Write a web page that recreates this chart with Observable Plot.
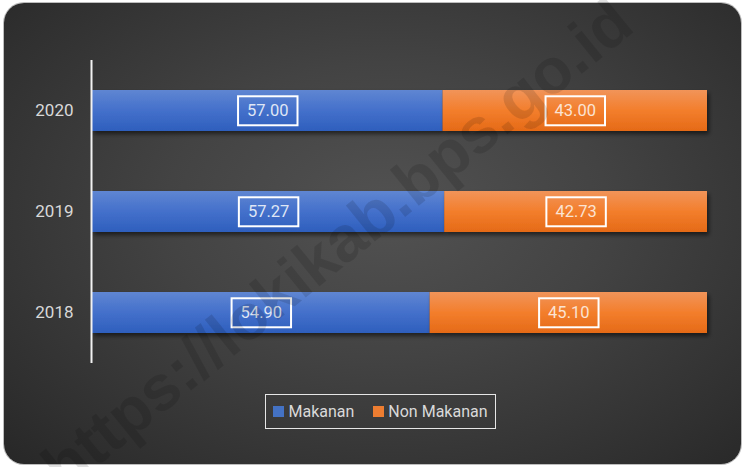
<!DOCTYPE html>
<html>
<head>
<meta charset="utf-8">
<script src="https://cdn.jsdelivr.net/npm/d3@7"></script>
<script src="https://cdn.jsdelivr.net/npm/@observablehq/plot@0.6"></script>
<style>
  html, body { margin: 0; padding: 0; background: #fff; }
  #wrap { position: relative; width: 746px; height: 467px; overflow: hidden; }
  #bg { position: absolute; left: 4px; top: 3px; width: 737px; height: 461px; border-radius: 20px;
        background: radial-gradient(ellipse 75% 80% at 52% 45%, #525252 0%, #434343 40%, #303030 80%, #262626 100%);
        box-shadow: 0 0 0 1px #bdbdbd; }
  #chart { position: absolute; left: 0; top: 0; }
  #legend { position: absolute; left: 265px; top: 394px; width: 229px; height: 33px; border: 1.5px solid #e6e6e6;
            display: flex; align-items: center; justify-content: center; gap: 19px; white-space: nowrap;
            font-family: Roboto, sans-serif; font-size: 16px; color: #d9d9d9; }
  #legend .item { display: flex; align-items: center; gap: 4px; }
  #legend .sw { width: 11px; height: 11px; display: inline-block; }
  #wm { position: absolute; left: 0; top: 0; width: 746px; height: 467px; pointer-events: none; }
</style>
</head>
<body>
<svg width="0" height="0" style="position:absolute">
  <defs>
    <linearGradient id="gBlue" x1="0" y1="0" x2="0" y2="1">
      <stop offset="0" stop-color="#5f86d2"/>
      <stop offset="0.5" stop-color="#4470cb"/>
      <stop offset="1" stop-color="#2e5fbd"/>
    </linearGradient>
    <linearGradient id="gOrange" x1="0" y1="0" x2="0" y2="1">
      <stop offset="0" stop-color="#f19459"/>
      <stop offset="0.5" stop-color="#f37e2c"/>
      <stop offset="1" stop-color="#e56a17"/>
    </linearGradient>
    <filter id="shadow" x="-5%" y="-20%" width="110%" height="160%">
      <feDropShadow dx="2" dy="3" stdDeviation="2" flood-color="#000" flood-opacity="0.55"/>
    </filter>
  </defs>
</svg>
<div id="wrap">
  <div id="bg"></div>
  <div id="chart"></div>
  <div id="legend"></div>
  <svg id="wm"></svg>
</div>
<script>
const years = ["2020", "2019", "2018"];
const series = ["Makanan", "Non Makanan"];
const makanan = [57.00, 57.27, 54.90];
const nonMakanan = [43.00, 42.73, 45.10];
const seriesFill = ["url(#gBlue)", "url(#gOrange)"];
const legendColors = ["#4472c4", "#ed7d31"];
const watermark = "https://lokikab.bps.go.id";

const data = [];
years.forEach((y, i) => {
  data.push({year: y, series: series[0], value: makanan[i]});
  data.push({year: y, series: series[1], value: nonMakanan[i]});
});

const font = 'Roboto, sans-serif';

const plot = Plot.plot({
  width: 746,
  height: 467,
  marginLeft: 92,
  marginRight: 39,
  marginTop: 60,
  marginBottom: 104,
  style: {background: "transparent", fontFamily: font, color: "#d9d9d9"},
  x: {domain: [0, 100], axis: null},
  y: {domain: years, padding: 0, label: null},
  color: {domain: series, range: seriesFill},
  marks: [
    Plot.barX(data, Plot.stackX({x: "value", y: "year", fill: "series", insetTop: 30, insetBottom: 30, order: series})),
    Plot.ruleX([0], {stroke: "#f2f2f2", strokeWidth: 2, dx: -1}),
    Plot.axisY({tickSize: 0, tickPadding: 19, fontSize: 17, fill: "#d9d9d9", label: null}),
    Plot.text(data, Plot.stackX({x: "value", y: "year", z: "series", order: series,
      text: d => d.value.toFixed(2), fontSize: 16.5, fill: d => d.series === series[0] ? "#dfe6f5" : "#fbe3d3",
      className: "vlabel"}))
  ]
});
document.getElementById("chart").appendChild(plot);

// shadow on bars
plot.querySelectorAll("g[aria-label='bar'] rect").forEach(r => r.setAttribute("filter", "url(#shadow)"));

// boxes around value labels
plot.querySelectorAll(".vlabel text").forEach(t => {
  const b = t.getBBox();
  const ns = "http://www.w3.org/2000/svg";
  const r = document.createElementNS(ns, "rect");
  const tr = t.getAttribute("transform");
  const w = b.width + 18, h = 29;
  r.setAttribute("x", b.x + b.width / 2 - w / 2);
  r.setAttribute("y", b.y + b.height / 2 - h / 2);
  r.setAttribute("width", w);
  r.setAttribute("height", h);
  r.setAttribute("fill", "none");
  r.setAttribute("stroke", "#ffffff");
  r.setAttribute("stroke-width", 2);
  if (tr) r.setAttribute("transform", tr);
  t.parentNode.insertBefore(r, t);
});

// legend
const leg = document.getElementById("legend");
series.forEach((s, i) => {
  const it = document.createElement("div");
  it.className = "item";
  it.innerHTML = `<span class="sw" style="background:${legendColors[i]}"></span><span>${s}</span>`;
  leg.appendChild(it);
});

// watermark
const wm = d3.select("#wm");
wm.append("text")
  .attr("transform", "translate(340,248) rotate(-39)")
  .attr("text-anchor", "middle")
  .attr("dominant-baseline", "middle")
  .attr("font-family", "Liberation Sans, Arial, sans-serif")
  .attr("font-weight", "bold")
  .attr("font-size", 64)
  .attr("fill", "rgba(0,0,0,0.12)")
  .text(watermark);
</script>
</body>
</html>
